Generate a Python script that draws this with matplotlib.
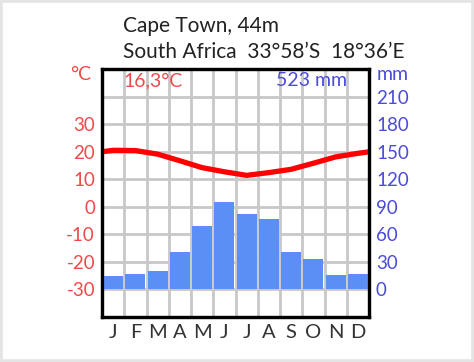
import matplotlib

matplotlib.use("Agg")
import matplotlib.pyplot as plt  # noqa: E402
import numpy as np  # noqa: E402
from matplotlib.patches import Rectangle  # noqa: E402

# climate data, Cape Town
months = ["J", "F", "M", "A", "M", "J", "J", "A", "S", "O", "N", "D"]
temp_c = [20.5, 20.4, 19.1, 16.7, 14.2, 12.7, 11.4, 12.4, 13.6, 15.8, 18.1, 19.4]
precip_mm = [15, 17, 20, 41, 69, 95, 82, 77, 41, 33, 16, 17]
temp_ticks = [-30, -20, -10, 0, 10, 20, 30, 40]
precip_ticks = [0, 30, 60, 90, 120, 150, 180, 210]

title_1 = "Cape Town, 44m"
title_2 = "South Africa  33°58’S  18°36’E"
mean_label = "16,3°C"
total_label = "523 mm"

RED = "#ff0000"
RED_TEXT = "#ee4a4a"
BLUE_TEXT = "#4b4bdc"
BAR = "#5b8ff5"
GRID = "#c8c8c8"

plt.rcParams["font.family"] = ["Lato", "DejaVu Sans"]

fig = plt.figure(figsize=(4.74, 3.62), dpi=100)
ax = fig.add_axes([102 / 474, 1 - 317 / 362, 267 / 474, 248 / 362])
ax2 = ax.twinx()

# temperature axis (back): grid and line
ax.set_xlim(0, 12)
ax.set_ylim(-40, 50)
ax.set_yticks(temp_ticks)
ax.set_yticklabels([str(t) for t in temp_ticks[:-1]] + [""])
ax.set_xticks(np.arange(12) + 0.5)
ax.set_xticklabels(months)
ax.set_xticks(np.arange(1, 12), minor=True)
ax.grid(which="major", axis="y", color=GRID, lw=2)
ax.grid(which="minor", axis="x", color=GRID, lw=2)
ax.tick_params(which="both", length=0)
ax.tick_params(axis="y", colors=RED_TEXT, labelsize=13.5, pad=5)
ax.tick_params(axis="x", labelsize=14.5, pad=5, labelcolor="#333333")

# wrap the line out to the box edges with the Dec/Jan mean
edge = (temp_c[0] + temp_c[-1]) / 2
x_line = np.concatenate([[0], np.arange(12) + 0.5, [12]])
y_line = np.concatenate([[edge], temp_c, [edge]])
ax.plot(x_line, y_line, color=RED, lw=3.8, solid_capstyle="butt", zorder=3)

# precipitation axis (front): bars
ax2.set_ylim(-30, 240)
ax2.set_yticks(precip_ticks)
ax2.tick_params(length=0, colors=BLUE_TEXT, labelsize=13.5, pad=5)
ax2.bar(np.arange(12) + 0.5, precip_mm, width=0.9, color=BAR, zorder=2)

for a in (ax, ax2):
    for s in a.spines.values():
        s.set_linewidth(2.3)
        s.set_color("black")

fig.text(123 / 474, 1 - 31.5 / 362, title_1, fontsize=15, color="#222222")
fig.text(123 / 474, 1 - 58.5 / 362, title_2, fontsize=15, color="#222222")
fig.text(91 / 474, 1 - 80 / 362, "°C", fontsize=14, color=RED_TEXT, ha="right")
fig.text(377 / 474, 1 - 80 / 362, "mm", fontsize=14, color=BLUE_TEXT)
fig.text(123 / 474, 1 - 86.5 / 362, mean_label, fontsize=14, color=RED_TEXT)
fig.text(347 / 474, 1 - 86.5 / 362, total_label, fontsize=14, color=BLUE_TEXT, ha="right")

fig.patches.append(
    Rectangle((0, 0), 1, 1, transform=fig.transFigure, fill=False,
              edgecolor="#e4e4e4", lw=4)
)

fig.savefig("out.png", dpi=100)
